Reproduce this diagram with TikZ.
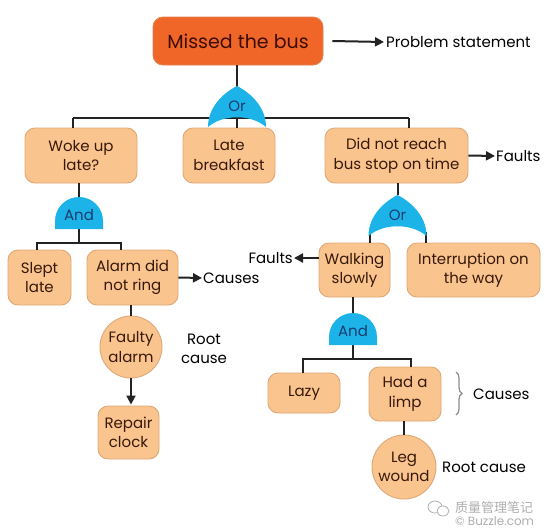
\documentclass[tikz,border=0pt]{standalone}
\usepackage{fontspec}
\setmainfont{Poppins}
\newfontfamily\cjkfont{Noto Sans CJK SC}
\usetikzlibrary{arrows.meta,decorations.pathreplacing,calc}
\definecolor{boxfill}{RGB}{250,196,143}
\definecolor{boxline}{RGB}{222,168,118}
\definecolor{boxtext}{RGB}{55,25,10}
\definecolor{mainfill}{RGB}{240,102,40}
\definecolor{mainline}{RGB}{225,130,80}
\definecolor{maintext}{RGB}{60,12,0}
\definecolor{gateblue}{RGB}{28,180,232}
\definecolor{gatetext}{RGB}{25,60,110}
\definecolor{conn}{RGB}{35,35,35}
\definecolor{wm}{RGB}{175,175,175}
\tikzset{
  box/.style={draw=boxline, fill=boxfill, line width=0.9pt, rounded corners=10pt, align=center,
    text=boxtext, inner sep=0pt, font=\fontsize{15}{19.5}\selectfont},
  circ/.style={circle, draw=boxline, fill=boxfill, line width=0.9pt, align=center,
    text=boxtext, inner sep=0pt, font=\fontsize{15}{19.5}\selectfont},
  mainbox/.style={draw=mainline, fill=mainfill, line width=0.9pt, rounded corners=10pt, align=center,
    text=maintext, inner sep=0pt, font=\fontsize{19}{22}\selectfont},
  lbl/.style={text=black, align=center, inner sep=1pt, font=\fontsize{15}{19.5}\selectfont},
  gatelbl/.style={text=gatetext, inner sep=0pt, font=\fontsize{15}{17}\selectfont},
  conn/.style={draw=conn, line width=2pt},
  arr/.style={draw=conn, line width=2pt, -{Triangle[length=9pt,width=9pt]}},
  orgate/.pic={\fill[gateblue] (-29,41) .. controls (-29,20) and (-12,6) .. (0,0)
     .. controls (12,6) and (29,20) .. (29,41) .. controls (14,28) and (-14,28) .. (-29,41) -- cycle;},
  andgate/.pic={\fill[gateblue] (-24,0) -- (-24,-8) .. controls (-24,-21.25) and (-13.25,-32) .. (0,-32)
     .. controls (13.25,-32) and (24,-21.25) .. (24,-8) -- (24,0) -- cycle;}
}
\begin{document}
\begin{tikzpicture}[x=1pt,y=-1pt]
\useasboundingbox (0,0) rectangle (550,531);
\fill[white] (0,0) rectangle (550,531);
% nodes
\node[mainbox, minimum width=170pt, minimum height=48pt] (bus) at (238,41) {Missed the bus};
\node[lbl, anchor=west] (ps) at (385,42) {Problem statement};
\node[box, minimum width=112pt, minimum height=55pt] (woke) at (81,155.5) {Woke up\\late?};
\node[box, minimum width=92pt, minimum height=55pt] (late) at (229,155.5) {Late\\breakfast};
\node[box, minimum width=143pt, minimum height=55pt] (reach) at (396.5,155.5) {Did not reach\\bus stop on time};
\node[lbl, anchor=west] (faultsR) at (495,156) {Faults};
\node[box, minimum width=63pt, minimum height=55pt] (slept) at (39.5,277.5) {Slept\\late};
\node[box, minimum width=91pt, minimum height=55pt] (alarm) at (132.5,277.5) {Alarm did\\not ring};
\node[lbl, anchor=west] (causesL) at (202,278) {Causes};
\node[circ, minimum size=62pt] (faulty) at (131,347) {Faulty\\alarm};
\node[lbl] (rootL) at (204,349) {Root\\cause};
\node[box, minimum width=61pt, minimum height=53pt] (repair) at (128.5,432.5) {Repair\\clock};
\node[box, minimum width=71pt, minimum height=54pt] (walk) at (354.5,270) {Walking\\slowly};
\node[box, minimum width=133pt, minimum height=54pt] (interr) at (473.5,270) {Interruption on\\the way};
\node[lbl, anchor=east] (faultsL) at (294,258) {Faults};
\node[box, minimum width=72pt, minimum height=40pt] (lazy) at (304,393) {Lazy};
\node[box, minimum width=72pt, minimum height=54pt] (limp) at (405,394) {Had a\\limp};
\node[lbl, anchor=west] (causesR) at (472,394) {Causes};
\node[circ, minimum size=64pt] (leg) at (404,467) {Leg\\wound};
\node[lbl, anchor=west] (rootR) at (441,467) {Root cause};
% gate coordinates
\coordinate (or1top) at (237,86);
\coordinate (barL) at (73,118);
\coordinate (barR) at (409,118);
\coordinate (andLtop) at (79,197);
\coordinate (andLbot) at (79,229);
\coordinate (barLL) at (37,243);
\coordinate (barLR) at (121,243);
\coordinate (or2top) at (397.5,195);
\coordinate (or2L) at (370,232);
\coordinate (or2R) at (426,232);
\coordinate (andRtop) at (353,313);
\coordinate (andRbot) at (353,345);
\coordinate (barRL) at (303,359);
\coordinate (barRR) at (411,359);
% connectors
\draw[conn] (bus.south -| or1top) -- (late.north -| or1top);
\draw[conn] (barL) -- (barR);
\draw[conn] (barL) -- (woke.north -| barL);
\draw[conn] (barR) -- (reach.north -| barR);
\draw[conn] (woke.south -| andLtop) -- (andLbot);
\draw[conn] (andLbot) |- (barLL) -- (slept.north -| barLL);
\draw[conn] (andLbot) |- (barLR) -- (alarm.north -| barLR);
\draw[conn] (alarm.south -| faulty.north) -- (faulty.north);
\draw[arr] (faulty.south) -- ($(repair.north -| faulty.south)+(0,-1)$);
\draw[conn] (reach.south -| or2top) -- (or2top);
\draw[conn] (or2L) -- (walk.north -| or2L);
\draw[conn] (or2R) -- (interr.north -| or2R);
\draw[conn] (walk.south -| andRtop) -- (andRbot);
\draw[conn] (andRbot) |- (barRL) -- (lazy.north -| barRL);
\draw[conn] (andRbot) |- (barRR) -- (limp.north -| barRR);
\draw[conn] (limp.south -| leg.north) -- (leg.north);
% arrows to labels
\draw[arr] ($(bus.east)+(9,0)$) -- ($(ps.west)+(-1,0)$);
\draw[arr] (reach.east) -- (faultsR.west);
\draw[arr] (alarm.east) -- (causesL.west);
\draw[arr] (walk.west |- faultsL.east) -- (faultsL.east);
% gates
\pic at (or1top) {orgate};
\node[gatelbl] (or1) at (237,106) {Or};
\pic at (andLbot) {andgate};
\node[gatelbl] (andL) at (79,215) {And};
\pic at (or2top) {orgate};
\node[gatelbl] (or2) at (397.5,215) {Or};
\pic at (andRbot) {andgate};
\node[gatelbl] (andR) at (353,331) {And};
% brace
\draw[wm!80!black, line width=1.2pt, decorate, decoration={brace, amplitude=6pt}] (456,372) -- (456,415);
% watermark
\node[text=wm, inner sep=0pt, font=\cjkfont\fontsize{13}{15}\selectfont, anchor=west] (wm1) at (455,508) {质量管理笔记};
\node[text=wm, inner sep=0pt, font=\fontsize{12}{14}\selectfont, anchor=west] (wm2) at (455,521) {© Buzzle.com};
\draw[wm, line width=0.8pt] (435,507) ellipse [x radius=7, y radius=6];
\draw[wm, line width=0.8pt, fill=white] (443,511) ellipse [x radius=6, y radius=5];
\end{tikzpicture}
\end{document}
